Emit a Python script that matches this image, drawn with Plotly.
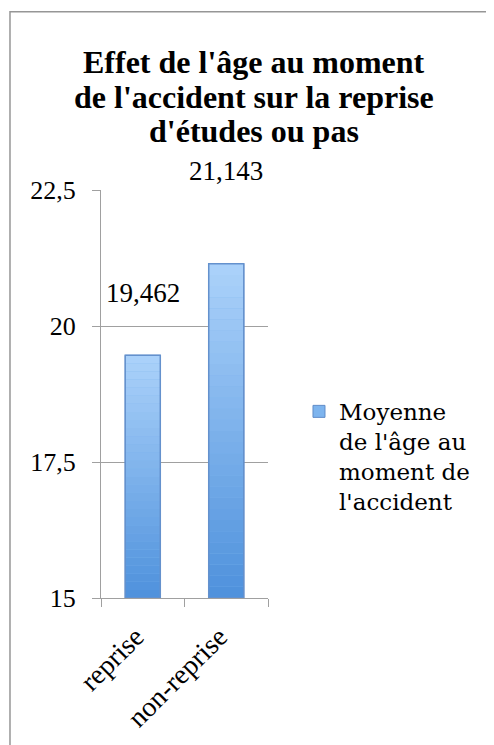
import plotly.graph_objects as go

categories = ["reprise", "non-reprise"]
values = [19.462, 21.143]
series_name = "Moyenne<br>de l'âge au<br>moment de<br>l'accident"
title_lines = ["Effet de l'âge au moment", "de l'accident sur la reprise", "d'études ou pas"]
y_ticks = [15, 17.5, 20, 22.5]

Y0 = 15
FONT = "'Liberation Serif', 'Times New Roman', Times, serif"
LEG_FONT = "'DejaVu Serif', serif"
BAR_W = 0.42
N_SEG = 30
bottom_rgb = (78, 145, 220)
top_rgb = (172, 210, 250)

def mix(a, b, t):
    return "rgb(%d,%d,%d)" % tuple(round(a[i] + (b[i] - a[i]) * t) for i in range(3))

fig = go.Figure()
# base bar (legend entry)
fig.add_trace(go.Bar(
    x=categories, y=[v - Y0 for v in values], base=[Y0] * len(values),
    width=BAR_W, name=series_name, showlegend=True,
    marker=dict(color="rgb(125,180,238)", line=dict(color="rgb(95,140,200)", width=1)),
    hoverinfo="skip",
))
# vertical gradient built as stacked slices of each bar
for k in range(N_SEG):
    t = (k + 0.5) / N_SEG
    fig.add_trace(go.Bar(
        x=categories,
        y=[(v - Y0) / N_SEG for v in values],
        base=[Y0 + (v - Y0) * k / N_SEG for v in values],
        width=BAR_W, showlegend=False, hoverinfo="skip",
        marker=dict(color=mix(bottom_rgb, top_rgb, t), line=dict(width=0)),
    ))
# outline
fig.add_trace(go.Bar(
    x=categories, y=[v - Y0 for v in values], base=[Y0] * len(values),
    width=BAR_W, showlegend=False, hoverinfo="skip",
    marker=dict(color="rgba(0,0,0,0)", line=dict(color="rgb(100,145,205)", width=1.5)),
))

annotations = []
# data labels
label_shift = [45, 76]
for c, v, s in zip(categories, values, label_shift):
    annotations.append(dict(
        x=c, y=v, xref="x", yref="y", text=f"{v:.3f}".replace(".", ","),
        showarrow=False, yanchor="bottom", yshift=s,
        font=dict(family=FONT, size=27, color="black"),
    ))
# title lines
title_y = [1.3146, 1.228, 1.1439]
for line, yy in zip(title_lines, title_y):
    annotations.append(dict(
        x=0.916, y=yy, xref="paper", yref="paper", text=f"<b>{line}</b>",
        showarrow=False, xanchor="center", yanchor="middle",
        font=dict(family=FONT, size=32, color="black"),
    ))

fig.update_layout(
    width=486, height=737,
    margin=dict(l=93, r=226, t=182, b=145),
    paper_bgcolor="white", plot_bgcolor="white",
    font=dict(family=FONT, color="black"),
    barmode="overlay",
    separators=", ",
    showlegend=True,
    legend=dict(x=1.1856, y=0.51, xanchor="left", yanchor="top", valign="top",
                font=dict(family=LEG_FONT, size=23, color="black"),
                bgcolor="rgba(0,0,0,0)", borderwidth=0),
    annotations=annotations,
    shapes=[dict(type="rect", xref="paper", yref="paper",
                 x0=-0.545, x1=2.5, y0=-0.5, y1=1.4366,
                 line=dict(color="rgb(150,150,150)", width=1.5), layer="below")],
)
fig.update_yaxes(
    range=[15, 22.5], tickvals=y_ticks, tickformat=".1~f",
    showgrid=True, gridcolor="rgb(160,160,160)", gridwidth=1.3,
    showline=True, linecolor="rgb(160,160,160)", linewidth=1.3,
    ticks="outside", ticklen=8, tickcolor="rgb(160,160,160)", tickwidth=1.3,
    ticklabelstandoff=11, zeroline=False,
    tickfont=dict(family=FONT, size=26, color="black"),
)
fig.update_xaxes(
    showline=True, linecolor="rgb(160,160,160)", linewidth=1.3,
    ticks="outside", ticklen=8, tickcolor="rgb(160,160,160)", tickwidth=1.3,
    tickson="boundaries", tickangle=-45, showgrid=False,
    ticklabelstandoff=10, ticklabelshift=-7,
    tickfont=dict(family=FONT, size=28, color="black"),
)

fig.write_html("out.html")
